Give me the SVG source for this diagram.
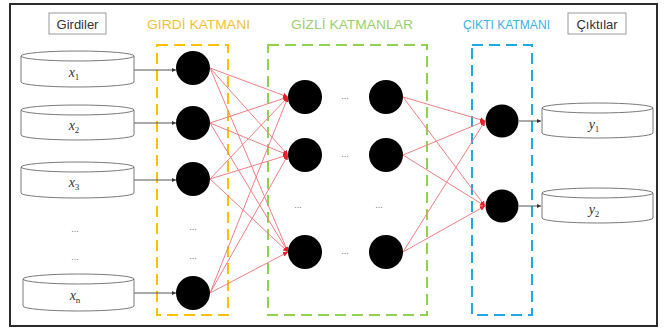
<svg xmlns="http://www.w3.org/2000/svg" width="667" height="329" viewBox="0 0 667 329">
  <style>
    .frame { fill: #ffffff; stroke: #2b2b2b; stroke-width: 2; }
    .tag { fill: #ffffff; stroke: #9a9a9a; stroke-width: 1; }
    .tagtxt { font-family: "Liberation Sans", Arial, sans-serif; font-size: 13px; fill: #333333; text-anchor: middle; }
    .ttl { font-family: "Liberation Sans", Arial, sans-serif; font-size: 13px; text-anchor: start; }
    .cyl { fill: #ffffff; stroke: #7a7a7a; stroke-width: 1; }
    .math { font-family: "Liberation Serif", "Times New Roman", serif; font-style: italic; font-size: 14px; fill: #333333; text-anchor: middle; }
    .sub { font-size: 9px; font-style: normal; }
    .node { fill: #000000; }
    .dots { font-family: "Liberation Sans", Arial, sans-serif; font-size: 9px; fill: #777777; text-anchor: middle; }
    .layer { fill: none; stroke-width: 2; stroke-dasharray: 11 6; }
    .w { stroke: #f07f84; stroke-width: 1; fill: none; }
    .io { stroke: #555555; stroke-width: 1; fill: none; }
  </style>
  <defs>
    <marker id="redHead" viewBox="0 0 6 6" refX="6" refY="3" markerWidth="5" markerHeight="5" markerUnits="userSpaceOnUse" orient="auto">
      <path d="M0,0 L6,3 L0,6 Z" fill="#e8202a"/>
    </marker>
    <marker id="darkHead" viewBox="0 0 6 6" refX="6" refY="3" markerWidth="4" markerHeight="4" markerUnits="userSpaceOnUse" orient="auto">
      <path d="M0,0 L6,3 L0,6 Z" fill="#333333"/>
    </marker>
  </defs>

  <rect class="frame" x="10" y="4" width="647" height="322"/>

  <!-- headings -->
  <g id="label-inputs">
    <rect class="tag" x="49" y="13" width="57" height="21"/>
    <text class="tagtxt" x="77.5" y="28.5">Girdiler</text>
  </g>
  <g id="label-outputs">
    <rect class="tag" x="568" y="13" width="58" height="21"/>
    <text class="tagtxt" x="597" y="28.5">Çıktılar</text>
  </g>
  <text class="ttl" x="147" y="28.5" fill="#f5c232" textLength="103" lengthAdjust="spacingAndGlyphs">GIRDİ KATMANI</text>
  <text class="ttl" x="291" y="28.5" fill="#9ccf6c" textLength="122" lengthAdjust="spacingAndGlyphs">GİZLİ KATMANLAR</text>
  <text class="ttl" x="463" y="28.5" fill="#3ab2e2" textLength="87" lengthAdjust="spacingAndGlyphs">ÇIKTI KATMANI</text>

  <!-- layer frames -->
  <rect class="layer" x="157" y="45" width="71" height="270" stroke="#ffc000"/>
  <rect class="layer" x="268" y="45" width="159" height="270" stroke="#92d050"/>
  <rect class="layer" x="472" y="45" width="60" height="270" stroke="#1fa9e0"/>

  <!-- connectors -->
  <g id="connectors">
    <!-- input cylinders to input nodes -->
    <line class="io" x1="134" y1="70" x2="176" y2="70" marker-end="url(#darkHead)"/>
    <line class="io" x1="134" y1="123" x2="176" y2="123" marker-end="url(#darkHead)"/>
    <line class="io" x1="134" y1="180" x2="176" y2="180" marker-end="url(#darkHead)"/>
    <line class="io" x1="134" y1="293" x2="176" y2="293" marker-end="url(#darkHead)"/>
    <!-- input layer to first hidden column -->
    <g marker-end="url(#redHead)">
      <line class="w" x1="210" y1="68" x2="288" y2="97"/>
      <line class="w" x1="210" y1="68" x2="288" y2="155"/>
      <line class="w" x1="210" y1="68" x2="288" y2="252"/>
      <line class="w" x1="210" y1="123" x2="288" y2="97"/>
      <line class="w" x1="210" y1="123" x2="288" y2="155"/>
      <line class="w" x1="210" y1="123" x2="288" y2="252"/>
      <line class="w" x1="210" y1="179" x2="288" y2="97"/>
      <line class="w" x1="210" y1="179" x2="288" y2="155"/>
      <line class="w" x1="210" y1="179" x2="288" y2="252"/>
      <line class="w" x1="210" y1="293" x2="288" y2="97"/>
      <line class="w" x1="210" y1="293" x2="288" y2="155"/>
      <line class="w" x1="210" y1="293" x2="288" y2="252"/>
    </g>
    <!-- last hidden column to output layer -->
    <g marker-end="url(#redHead)">
      <line class="w" x1="403" y1="97" x2="485" y2="121"/>
      <line class="w" x1="403" y1="97" x2="485" y2="206"/>
      <line class="w" x1="403" y1="155" x2="485" y2="121"/>
      <line class="w" x1="403" y1="155" x2="485" y2="206"/>
      <line class="w" x1="403" y1="252" x2="485" y2="121"/>
      <line class="w" x1="403" y1="252" x2="485" y2="206"/>
    </g>
    <!-- output nodes to output cylinders -->
    <line class="io" x1="519" y1="121" x2="541" y2="121" marker-end="url(#darkHead)"/>
    <line class="io" x1="519" y1="206" x2="541" y2="206" marker-end="url(#darkHead)"/>
  </g>

  <!-- input cylinders -->
  <g id="in-x1">
    <path class="cyl" d="M21,56 L21,82 A56.5,5 0 0,0 134,82 L134,56"/>
    <ellipse class="cyl" cx="77.5" cy="56" rx="56.5" ry="5"/>
    <text class="math" x="74" y="77">x<tspan class="sub" dy="3">1</tspan></text>
  </g>
  <g id="in-x2">
    <path class="cyl" d="M21,110 L21,135 A56.5,5 0 0,0 134,135 L134,110"/>
    <ellipse class="cyl" cx="77.5" cy="110" rx="56.5" ry="5"/>
    <text class="math" x="74" y="130">x<tspan class="sub" dy="3">2</tspan></text>
  </g>
  <g id="in-x3">
    <path class="cyl" d="M21,167 L21,193 A56.5,5 0 0,0 134,193 L134,167"/>
    <ellipse class="cyl" cx="77.5" cy="167" rx="56.5" ry="5"/>
    <text class="math" x="74" y="187">x<tspan class="sub" dy="3">3</tspan></text>
  </g>
  <g id="in-dots">
    <text class="dots" x="75" y="232">...</text>
    <text class="dots" x="75" y="260">...</text>
  </g>
  <g id="in-xn">
    <path class="cyl" d="M23,279 L23,306 A55.5,5 0 0,0 134,306 L134,279"/>
    <ellipse class="cyl" cx="78.5" cy="279" rx="55.5" ry="5"/>
    <text class="math" x="75" y="300">x<tspan class="sub" dy="3">n</tspan></text>
  </g>

  <!-- input layer -->
  <g id="input-layer">
    <circle class="node" cx="193" cy="68" r="17"/>
    <circle class="node" cx="193" cy="123" r="17"/>
    <circle class="node" cx="193" cy="179" r="17"/>
    <text class="dots" x="193" y="230">...</text>
    <text class="dots" x="193" y="259">...</text>
    <circle class="node" cx="193" cy="293" r="17"/>
  </g>

  <!-- hidden layers -->
  <g id="hidden-layers">
    <circle class="node" cx="305" cy="97" r="17"/>
    <circle class="node" cx="305" cy="155" r="17"/>
    <circle class="node" cx="305" cy="252" r="17"/>
    <circle class="node" cx="386" cy="97" r="17"/>
    <circle class="node" cx="386" cy="155" r="17"/>
    <circle class="node" cx="386" cy="252" r="17"/>
    <text class="dots" x="345" y="99">...</text>
    <text class="dots" x="345" y="157">...</text>
    <text class="dots" x="345" y="254">...</text>
    <text class="dots" x="298" y="208">...</text>
    <text class="dots" x="379" y="208">...</text>
  </g>

  <!-- output layer -->
  <g id="output-layer">
    <circle class="node" cx="502" cy="121" r="16.5"/>
    <circle class="node" cx="502" cy="206" r="16.5"/>
  </g>

  <!-- output cylinders -->
  <g id="out-y1">
    <path class="cyl" d="M542,108 L542,133 A55.5,5 0 0,0 653,133 L653,108"/>
    <ellipse class="cyl" cx="597.5" cy="108" rx="55.5" ry="5"/>
    <text class="math" x="594" y="129">y<tspan class="sub" dy="3">1</tspan></text>
  </g>
  <g id="out-y2">
    <path class="cyl" d="M542,193 L542,218 A55.5,5 0 0,0 653,218 L653,193"/>
    <ellipse class="cyl" cx="597.5" cy="193" rx="55.5" ry="5"/>
    <text class="math" x="594" y="214">y<tspan class="sub" dy="3">2</tspan></text>
  </g>
</svg>
